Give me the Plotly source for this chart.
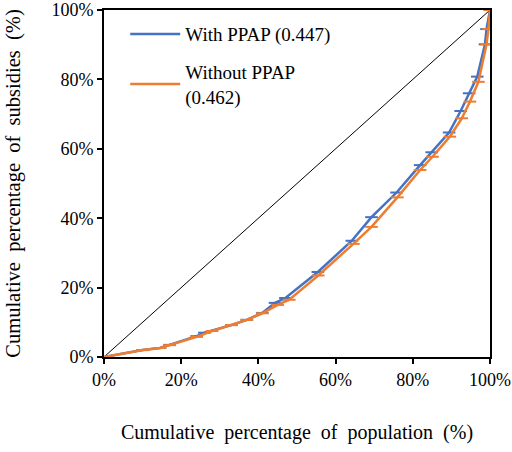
import plotly.graph_objects as go

pop_with = [0, 10, 14.5, 17, 24, 26, 33, 37, 41, 44.3, 47, 55.4, 64.2, 69.3, 75.8, 81.9, 84.9, 89.4, 92.4, 94.6, 96.7, 98.7, 99.1, 100]
sub_with = [0, 2, 2.6, 3.5, 6, 7, 9.2, 10.7, 12.7, 15.6, 17, 24.5, 33.5, 40.3, 47.4, 55.3, 59, 64.7, 70.9, 76, 80.8, 90.1, 94.5, 100]

pop_without = [0, 10, 14.5, 17, 24, 28, 33, 37, 41, 45, 48, 55.5, 64.6, 69.3, 76, 81.9, 85.1, 89.6, 92.7, 94.8, 97, 99.1, 99.6, 100]
sub_without = [0, 2, 2.6, 3.4, 5.8, 7.5, 9.2, 10.7, 12.6, 15, 16.5, 23.5, 32.6, 37.5, 46, 53.9, 57.7, 63.5, 68.8, 73.6, 79.3, 90.1, 94.5, 100]

equality = [0, 100]

ticks = [0, 20, 40, 60, 80, 100]
tick_labels = ["0%", "20%", "40%", "60%", "80%", "100%"]

font = "Liberation Serif"
blue = "#4472C4"
orange = "#ED7D31"

fig = go.Figure()
fig.add_trace(go.Scatter(x=equality, y=equality, mode="lines",
                         line=dict(color="black", width=1), showlegend=False, hoverinfo="skip"))
fig.add_trace(go.Scatter(x=pop_with, y=sub_with, mode="lines+markers", name="With PPAP (0.447)",
                         legendgroup="a",
                         line=dict(color=blue, width=2.5),
                         marker=dict(symbol="line-ew", size=9, line=dict(color=blue, width=2))))
fig.add_trace(go.Scatter(x=pop_without, y=sub_without, mode="lines+markers", name="Without PPAP<br>(0.462)",
                         legendgroup="b",
                         line=dict(color=orange, width=2.5),
                         marker=dict(symbol="line-ew", size=9, line=dict(color=orange, width=2))))

axis_common = dict(range=[0, 100], tickvals=ticks, ticktext=tick_labels, showgrid=False, zeroline=False,
                   showline=True, linecolor="black", linewidth=2, mirror=True, automargin=False,
                   ticks="outside", ticklen=5, tickwidth=1.5, tickcolor="black",
                   tickfont=dict(family=font, size=18, color="black"))

fig.update_xaxes(**axis_common,
                 title=dict(text="Cumulative  percentage  of  population  (%)", font=dict(family=font, size=20, color="black"), standoff=36))
fig.update_yaxes(**axis_common,
                 title=dict(text="Cumulative  percentage  of  subsidies  (%)", font=dict(family=font, size=20.5, color="black"), standoff=25))

fig.update_layout(
    width=512, height=452,
    margin=dict(l=104, r=22, t=10, b=95),
    paper_bgcolor="white", plot_bgcolor="white",
    font=dict(family=font, color="black"),
    legend=dict(x=0.055, y=0.985, xanchor="left", yanchor="top",
                bgcolor="rgba(0,0,0,0)", font=dict(family=font, size=19, color="black"),
                tracegroupgap=10, itemwidth=50),
)

fig.write_html("out.html")
